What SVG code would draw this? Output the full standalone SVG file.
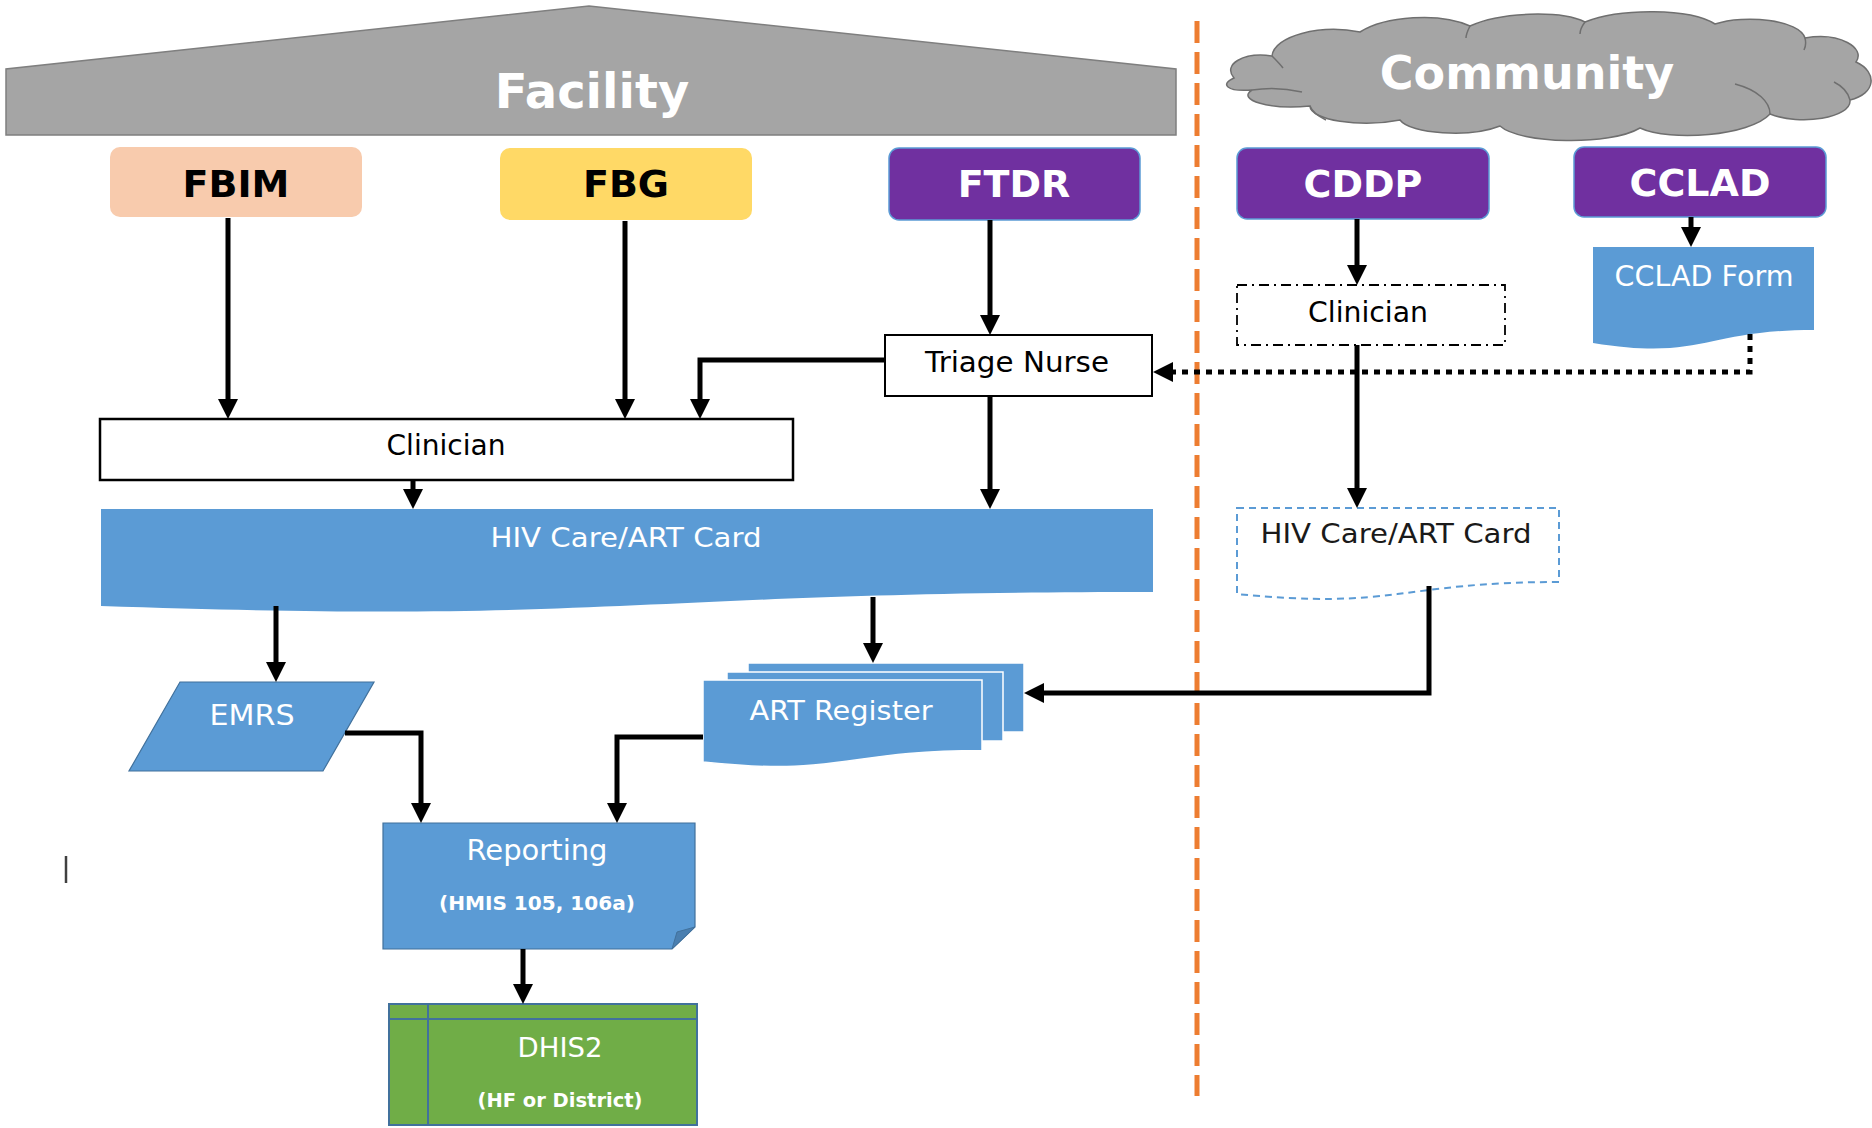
<svg xmlns="http://www.w3.org/2000/svg" width="1872" height="1128" viewBox="0 0 1872 1128">
<style>
text{font-family:"DejaVu Sans","Liberation Sans",sans-serif;text-anchor:middle}
.hd{font-weight:bold;font-size:38px}
.big{font-weight:bold;fill:#fff}
.w{fill:#fff}
.n{font-size:28px}
.s{font-size:19px;font-weight:bold;fill:#fff}
.blue{fill:#5b9bd5;stroke:#41719c;stroke-width:1.2}
.purple{fill:#7030a0;stroke:#5b9bd5;stroke-width:1.5}
.conn path{fill:none;stroke:#000;stroke-width:5;stroke-linejoin:miter;marker-end:url(#ah)}
</style>
<defs>
<marker id="ah" markerUnits="userSpaceOnUse" markerWidth="20" markerHeight="20" refX="12" refY="10" orient="auto">
<path d="M0,0 L20,10 L0,20 Z" fill="#000"/>
</marker>
</defs>
<rect width="1872" height="1128" fill="#fff"/>

<g id="facility">
<polygon points="6,135 6,69 589,6 1176,69 1176,135" fill="#a5a5a5" stroke="#7f7f7f" stroke-width="1.5"/>
<text x="592" y="108" class="big" font-size="48">Facility</text>
</g>

<g id="community">
<path d="M1234,78 C1222,64 1244,52 1272,56 C1274,36 1320,24 1360,32 C1385,16 1440,12 1470,26 C1500,12 1560,10 1585,22 C1620,8 1690,8 1715,24 C1745,14 1800,20 1805,38 C1840,32 1866,48 1856,62 C1878,72 1876,94 1850,100 C1852,118 1800,126 1770,114 C1750,136 1670,142 1640,128 C1610,146 1520,144 1500,126 C1470,138 1410,134 1400,120 C1360,128 1310,120 1310,106 C1270,110 1236,100 1252,90 C1226,92 1220,84 1234,78 Z" fill="#a5a5a5" stroke="#6f6f6f" stroke-width="1.5"/>
<path d="M1252,90 C1265,88 1285,88 1302,92 M1272,56 C1276,60 1280,64 1283,68 M1470,26 C1468,30 1466,34 1466,38 M1585,22 C1582,26 1580,30 1580,34 M1805,38 C1806,42 1806,46 1804,50 M1850,100 C1848,92 1842,86 1834,82 M1770,114 C1770,102 1758,90 1735,84 M1310,106 C1312,112 1318,116 1326,120" fill="none" stroke="#6f6f6f" stroke-width="1.5"/>
<text x="1527" y="89" class="big" font-size="46">Community</text>
</g>

<g id="divider">
<line x1="1197" y1="21" x2="1197" y2="1096" stroke="#ed7d31" stroke-width="5" stroke-dasharray="22 9"/>
</g>

<g id="fbim">
<rect x="110" y="147" width="252" height="70" rx="10" fill="#f8cbad"/>
<text x="236" y="197" class="hd">FBIM</text>
</g>
<g id="fbg">
<rect x="500" y="148" width="252" height="72" rx="10" fill="#ffd966"/>
<text x="626" y="197" class="hd">FBG</text>
</g>
<g id="ftdr">
<rect x="889" y="148" width="251" height="72" rx="10" class="purple"/>
<text x="1014" y="197" class="hd w">FTDR</text>
</g>
<g id="cddp">
<rect x="1237" y="148" width="252" height="71" rx="10" class="purple"/>
<text x="1363" y="197" class="hd w">CDDP</text>
</g>
<g id="cclad">
<rect x="1574" y="147" width="252" height="70" rx="10" class="purple"/>
<text x="1700" y="196" class="hd w">CCLAD</text>
</g>

<g id="triage-nurse">
<rect x="885" y="335" width="267" height="61" fill="#fff" stroke="#000" stroke-width="2"/>
<text x="1017" y="372" class="n" textLength="184" lengthAdjust="spacingAndGlyphs">Triage Nurse</text>
</g>

<g id="clinician-facility">
<rect x="100" y="419" width="693" height="61" fill="#fff" stroke="#000" stroke-width="2.5"/>
<text x="446" y="455" class="n" textLength="119" lengthAdjust="spacingAndGlyphs">Clinician</text>
</g>

<g id="clinician-community">
<rect x="1237" y="285" width="268" height="60" fill="#fff" stroke="#000" stroke-width="1.8" stroke-dasharray="10 5 2 5"/>
<text x="1368" y="322" class="n" textLength="120" lengthAdjust="spacingAndGlyphs">Clinician</text>
</g>

<g id="cclad-form">
<path d="M1593,247 H1814 V330 C1703.5,330 1703.5,361 1593,343 Z" fill="#5b9bd5"/>
<text x="1704" y="286" class="n w" textLength="179" lengthAdjust="spacingAndGlyphs">CCLAD Form</text>
</g>

<g id="hiv-card-facility">
<path d="M101,509 H1153 V592 C627,592 627,624 101,606 Z" fill="#5b9bd5"/>
<text x="626" y="547" class="w" font-size="27" textLength="271" lengthAdjust="spacingAndGlyphs">HIV Care/ART Card</text>
</g>

<g id="hiv-card-community">
<path d="M1237,508 H1559 V582 C1398,582 1398,610 1237,594 Z" fill="#fff" stroke="#5b9bd5" stroke-width="2" stroke-dasharray="7 5"/>
<text x="1396" y="543" font-size="27" fill="#1a1a1a" textLength="271" lengthAdjust="spacingAndGlyphs">HIV Care/ART Card</text>
</g>

<g id="emrs">
<polygon points="180,682 374,682 323,771 129,771" class="blue"/>
<text x="252" y="725" class="n w" textLength="85" lengthAdjust="spacingAndGlyphs">EMRS</text>
</g>

<g id="art-register">
<rect x="748" y="663" width="276" height="69" fill="#5b9bd5" stroke="#fff" stroke-width="1.5"/>
<rect x="727" y="672" width="276" height="69" fill="#5b9bd5" stroke="#fff" stroke-width="1.5"/>
<path d="M703,680 H982 V750.6 C842.5,750.6 842.5,777 703,762 Z" fill="#5b9bd5" stroke="#fff" stroke-width="1.5"/>
<text x="841" y="720" class="w" font-size="26" textLength="183" lengthAdjust="spacingAndGlyphs">ART Register</text>
</g>

<g id="reporting">
<path d="M383,823 H695 V927 L672,949 H383 Z" class="blue"/>
<path d="M672,949 L677,932 L695,927 Z" fill="#4a7fb0" stroke="#41719c" stroke-width="1"/>
<text x="537" y="860" class="n w" textLength="141" lengthAdjust="spacingAndGlyphs">Reporting</text>
<text x="537" y="910" class="s" textLength="196" lengthAdjust="spacingAndGlyphs">(HMIS 105, 106a)</text>
</g>

<g id="dhis2">
<rect x="389" y="1004" width="308" height="121" fill="#70ad47" stroke="#41719c" stroke-width="2"/>
<line x1="389" y1="1019" x2="697" y2="1019" stroke="#41719c" stroke-width="2"/>
<line x1="428" y1="1004" x2="428" y2="1125" stroke="#41719c" stroke-width="2"/>
<text x="560" y="1057" class="w" font-size="27" textLength="85" lengthAdjust="spacingAndGlyphs">DHIS2</text>
<text x="560" y="1107" class="s" textLength="165" lengthAdjust="spacingAndGlyphs">(HF or District)</text>
</g>

<g id="cursor">
<line x1="66" y1="856" x2="66" y2="883" stroke="#404040" stroke-width="2.5"/>
</g>

<g id="connectors" class="conn">
<path d="M228,218 V411"/>
<path d="M625,221 V411"/>
<path d="M990,220 V327"/>
<path d="M885,360 H700 V411"/>
<path d="M990,396 V501"/>
<path d="M413,480 V501"/>
<path d="M276,606 V674"/>
<path d="M873,597 V655"/>
<path d="M345,733 H421 V815"/>
<path d="M703,737 H617 V815"/>
<path d="M523,949 V996"/>
<path d="M1357,219 V277"/>
<path d="M1357,345 V500"/>
<path d="M1691,217 V239"/>
<path d="M1429,586 V693 H1032"/>
<path d="M1750,334 V372 H1161" stroke-width="6" stroke-dasharray="6 6"/>
</g>
</svg>
